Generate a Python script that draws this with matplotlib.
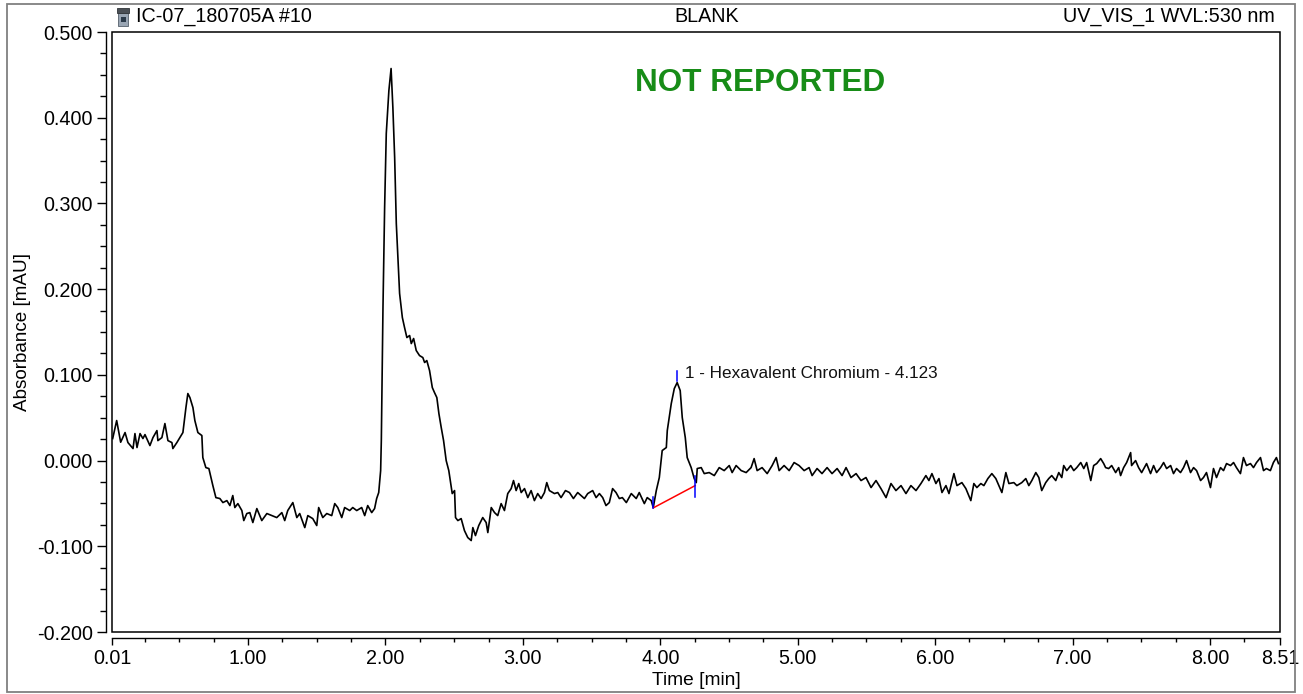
import matplotlib
matplotlib.use("Agg")
import matplotlib.pyplot as plt
from matplotlib.patches import Rectangle
from matplotlib.ticker import FixedLocator, MultipleLocator, FixedFormatter, FormatStrFormatter

plt.rcParams["font.family"] = ["Liberation Sans", "DejaVu Sans"]
plt.rcParams["axes.unicode_minus"] = False

# ---- chromatogram trace: retention time [min] and absorbance [mAU] ----
time_min = [
    0.015, 0.044, 0.073, 0.105, 0.126, 0.163, 0.177, 0.192, 0.214, 0.235,
    0.250, 0.286, 0.308, 0.337, 0.344, 0.373, 0.395, 0.417, 0.446, 0.453,
    0.482, 0.504, 0.526, 0.548, 0.562, 0.577, 0.599, 0.613, 0.635, 0.664,
    0.671, 0.693, 0.715, 0.744, 0.766, 0.795, 0.817, 0.846, 0.868, 0.889,
    0.904, 0.926, 0.955, 0.969, 0.991, 1.013, 1.035, 1.064, 1.100, 1.137,
    1.173, 1.209, 1.246, 1.267, 1.289, 1.326, 1.355, 1.376, 1.413, 1.435,
    1.471, 1.500, 1.514, 1.544, 1.573, 1.609, 1.631, 1.653, 1.682, 1.703,
    1.740, 1.762, 1.791, 1.827, 1.849, 1.871, 1.900, 1.921, 1.936, 1.951,
    1.965, 1.970, 1.982, 1.994, 2.006, 2.025, 2.041, 2.054, 2.067, 2.079,
    2.091, 2.103, 2.123, 2.139, 2.156, 2.176, 2.188, 2.205, 2.224, 2.248,
    2.272, 2.285, 2.301, 2.321, 2.341, 2.357, 2.374, 2.389, 2.406, 2.423,
    2.442, 2.461, 2.486, 2.503, 2.510, 2.527, 2.551, 2.575, 2.599, 2.624,
    2.636, 2.655, 2.679, 2.708, 2.733, 2.745, 2.770, 2.794, 2.817, 2.842,
    2.866, 2.890, 2.915, 2.932, 2.951, 2.970, 2.988, 3.012, 3.036, 3.060,
    3.084, 3.108, 3.133, 3.157, 3.174, 3.193, 3.230, 3.254, 3.278, 3.310,
    3.339, 3.368, 3.399, 3.424, 3.448, 3.472, 3.508, 3.533, 3.557, 3.581,
    3.605, 3.629, 3.653, 3.678, 3.702, 3.724, 3.753, 3.789, 3.825, 3.847,
    3.884, 3.905, 3.934, 3.949, 3.971, 3.993, 4.014, 4.044, 4.051, 4.080,
    4.102, 4.123, 4.145, 4.160, 4.182, 4.196, 4.225, 4.247, 4.262, 4.269,
    4.298, 4.320, 4.356, 4.393, 4.429, 4.465, 4.502, 4.523, 4.552, 4.589,
    4.625, 4.661, 4.683, 4.705, 4.741, 4.778, 4.814, 4.843, 4.865, 4.901,
    4.938, 4.974, 5.010, 5.047, 5.083, 5.105, 5.141, 5.177, 5.214, 5.250,
    5.287, 5.323, 5.352, 5.388, 5.425, 5.461, 5.497, 5.534, 5.570, 5.606,
    5.643, 5.679, 5.715, 5.752, 5.788, 5.824, 5.861, 5.897, 5.933, 5.955,
    5.977, 6.006, 6.028, 6.050, 6.079, 6.101, 6.137, 6.159, 6.195, 6.224,
    6.260, 6.282, 6.304, 6.333, 6.355, 6.384, 6.413, 6.442, 6.464, 6.486,
    6.515, 6.537, 6.573, 6.595, 6.631, 6.660, 6.682, 6.704, 6.733, 6.755,
    6.776, 6.805, 6.827, 6.849, 6.878, 6.900, 6.922, 6.936, 6.958, 6.987,
    7.009, 7.031, 7.060, 7.082, 7.103, 7.133, 7.154, 7.176, 7.205, 7.227,
    7.241, 7.263, 7.285, 7.314, 7.336, 7.350, 7.372, 7.394, 7.423, 7.430,
    7.459, 7.481, 7.503, 7.539, 7.568, 7.590, 7.612, 7.641, 7.663, 7.685,
    7.714, 7.735, 7.757, 7.786, 7.808, 7.830, 7.859, 7.881, 7.903, 7.932,
    7.953, 7.975, 8.004, 8.026, 8.048, 8.077, 8.099, 8.121, 8.150, 8.172,
    8.193, 8.222, 8.244, 8.266, 8.295, 8.317, 8.339, 8.368, 8.390, 8.411,
    8.440, 8.462, 8.484, 8.499,
]
absorbance = [
    0.0257, 0.0467, 0.0214, 0.0327, 0.0210, 0.0140, 0.0315, 0.0152, 0.0315, 0.0257,
    0.0303, 0.0175, 0.0268, 0.0350, 0.0233, 0.0268, 0.0432, 0.0233, 0.0210, 0.0140,
    0.0210, 0.0268, 0.0327, 0.0618, 0.0782, 0.0735, 0.0618, 0.0467, 0.0327, 0.0292,
    0.0035, -0.0082, -0.0093, -0.0292, -0.0432, -0.0443, -0.0490, -0.0467, -0.0525, -0.0408,
    -0.0548, -0.0502, -0.0583, -0.0700, -0.0618, -0.0607, -0.0723, -0.0560, -0.0700, -0.0618,
    -0.0642, -0.0665, -0.0607, -0.0700, -0.0583, -0.0490, -0.0665, -0.0618, -0.0782, -0.0642,
    -0.0677, -0.0758, -0.0548, -0.0665, -0.0618, -0.0642, -0.0502, -0.0548, -0.0665, -0.0548,
    -0.0583, -0.0548, -0.0583, -0.0548, -0.0642, -0.0525, -0.0607, -0.0560, -0.0443, -0.0373,
    -0.0117, 0.0233, 0.1785, 0.2952, 0.3816, 0.4317, 0.4574, 0.4119, 0.3536, 0.2765,
    0.2369, 0.1949, 0.1669, 0.1552, 0.1435, 0.1459, 0.1365, 0.1424, 0.1284, 0.1225,
    0.1202, 0.1144, 0.1167, 0.1050, 0.0852, 0.0793, 0.0735, 0.0548, 0.0385, 0.0233,
    0.0000, -0.0117, -0.0385, -0.0350, -0.0665, -0.0700, -0.0677, -0.0817, -0.0898, -0.0933,
    -0.0782, -0.0875, -0.0758, -0.0665, -0.0723, -0.0840, -0.0548, -0.0607, -0.0642, -0.0502,
    -0.0583, -0.0385, -0.0327, -0.0233, -0.0350, -0.0268, -0.0373, -0.0327, -0.0432, -0.0350,
    -0.0467, -0.0385, -0.0443, -0.0373, -0.0257, -0.0350, -0.0385, -0.0373, -0.0432, -0.0350,
    -0.0373, -0.0443, -0.0373, -0.0408, -0.0443, -0.0385, -0.0350, -0.0432, -0.0385, -0.0432,
    -0.0525, -0.0490, -0.0327, -0.0373, -0.0443, -0.0432, -0.0490, -0.0385, -0.0443, -0.0373,
    -0.0502, -0.0432, -0.0467, -0.0548, -0.0350, -0.0198, 0.0117, 0.0152, 0.0350, 0.0665,
    0.0840, 0.0910, 0.0817, 0.0502, 0.0268, 0.0035, -0.0082, -0.0210, -0.0257, -0.0093,
    -0.0082, -0.0152, -0.0140, -0.0175, -0.0082, -0.0117, -0.0058, -0.0140, -0.0058, -0.0117,
    -0.0140, -0.0082, 0.0023, -0.0117, -0.0082, -0.0152, -0.0058, 0.0035, -0.0117, -0.0058,
    -0.0117, -0.0023, -0.0058, -0.0117, -0.0082, -0.0175, -0.0093, -0.0152, -0.0082, -0.0152,
    -0.0093, -0.0175, -0.0082, -0.0198, -0.0152, -0.0233, -0.0198, -0.0315, -0.0233, -0.0327,
    -0.0432, -0.0268, -0.0350, -0.0292, -0.0385, -0.0292, -0.0350, -0.0268, -0.0175, -0.0233,
    -0.0152, -0.0268, -0.0210, -0.0373, -0.0292, -0.0385, -0.0152, -0.0292, -0.0257, -0.0327,
    -0.0467, -0.0268, -0.0315, -0.0268, -0.0292, -0.0210, -0.0152, -0.0210, -0.0292, -0.0373,
    -0.0140, -0.0268, -0.0257, -0.0292, -0.0257, -0.0210, -0.0292, -0.0233, -0.0140, -0.0198,
    -0.0350, -0.0257, -0.0210, -0.0175, -0.0233, -0.0140, -0.0198, -0.0058, -0.0117, -0.0058,
    -0.0117, -0.0082, -0.0023, -0.0093, -0.0023, -0.0233, -0.0058, -0.0035, 0.0023, -0.0035,
    -0.0082, -0.0093, -0.0058, -0.0140, -0.0082, -0.0175, -0.0082, -0.0023, 0.0093, -0.0058,
    0.0000, -0.0082, -0.0140, -0.0035, -0.0152, -0.0058, -0.0140, -0.0082, -0.0023, -0.0093,
    -0.0058, -0.0152, -0.0093, -0.0140, -0.0082, 0.0000, -0.0140, -0.0082, -0.0117, -0.0233,
    -0.0198, -0.0140, -0.0315, -0.0093, -0.0198, -0.0082, -0.0117, -0.0035, -0.0058, -0.0023,
    -0.0082, -0.0152, 0.0035, -0.0058, -0.0035, -0.0082, -0.0023, 0.0035, -0.0117, -0.0093,
    -0.0117, -0.0023, 0.0035, -0.0035,
]

# ---- integrated peak ----
peak_name = "1 - Hexavalent Chromium - 4.123"
peak_rt = 4.123
peak_start = (3.949, -0.0552)
peak_end = (4.254, -0.0292)
peak_top_mark = (0.0925, 0.1042)
start_mark = (-0.0552, -0.0428)
end_mark = (-0.0428, -0.0175)

# ---- axis ticks ----
x_major = [0.01, 1.0, 2.0, 3.0, 4.0, 5.0, 6.0, 7.0, 8.0, 8.51]
x_labels = ["0.01", "1.00", "2.00", "3.00", "4.00", "5.00", "6.00", "7.00", "8.00", "8.51"]
y_major = [-0.2, -0.1, 0.0, 0.1, 0.2, 0.3, 0.4, 0.5]

header_left = "IC-07_180705A #10"
header_mid = "BLANK"
header_right = "UV_VIS_1 WVL:530 nm"
status_text = "NOT REPORTED"

FS = 14.2

W, H = 1303, 694
fig = plt.figure(figsize=(W / 100, H / 100), dpi=100)
ax = fig.add_axes([112 / W, 62 / H, 1168 / W, 600 / H])

ax.plot(time_min, absorbance, color="black", lw=1.2, zorder=3)

# baseline of the integrated peak and its delimiters
ax.plot([peak_start[0], peak_end[0]], [peak_start[1], peak_end[1]], color="#ff0000", lw=1.1, zorder=4)
ax.plot([peak_start[0]] * 2, start_mark, color="#0000ff", lw=1.1, zorder=5)
ax.plot([peak_end[0]] * 2, end_mark, color="#0000ff", lw=1.1, zorder=5)
ax.plot([peak_rt] * 2, peak_top_mark, color="#0000ff", lw=1.1, zorder=5)
ax.annotate(peak_name, xy=(peak_rt, 0.0965), xytext=(5.8, 0), textcoords="offset points",
            ha="left", va="baseline", fontsize=12.3, color="#111111")

ax.text(0.555, 0.915, status_text, transform=ax.transAxes, ha="center", va="center",
        fontsize=22.7, fontweight="bold", color="#178c17")

ax.set_xlim(0.01, 8.51)
ax.set_ylim(-0.2, 0.5)

# detached axis lines with an inner frame around the plotting area
for side in ("top", "right"):
    ax.spines[side].set_visible(False)
for side in ("left", "bottom"):
    ax.spines[side].set_position(("outward", 4.3))
    ax.spines[side].set_linewidth(1.0)
ax.add_patch(Rectangle((0, 0), 1, 1, transform=ax.transAxes, fill=False,
                       lw=1.1, edgecolor="black", clip_on=False, zorder=6))

ax.xaxis.set_major_locator(FixedLocator(x_major))
ax.xaxis.set_major_formatter(FixedFormatter(x_labels))
ax.xaxis.set_minor_locator(FixedLocator([v * 0.25 for v in range(1, 34) if v % 4 != 0]))
ax.yaxis.set_major_locator(FixedLocator(y_major))
ax.yaxis.set_major_formatter(FormatStrFormatter("%.3f"))
ax.yaxis.set_minor_locator(MultipleLocator(0.025))

ax.tick_params(axis="x", which="major", length=5, width=1.0, labelsize=FS, pad=3)
ax.tick_params(axis="x", which="minor", length=2.9, width=1.0)
ax.tick_params(axis="y", which="major", length=6.5, width=1.0, labelsize=FS, pad=3)
ax.tick_params(axis="y", which="minor", length=4.0, width=1.0)

ax.set_xlabel("Time [min]", fontsize=13.8, labelpad=3)
ax.set_ylabel("Absorbance [mAU]", fontsize=13.6, labelpad=4)

# header line above the plot
fy = 1 - 16 / H
fig.text(136 / W, fy, header_left, ha="left", va="center", fontsize=FS)
fig.text(707 / W, fy, header_mid, ha="center", va="center", fontsize=FS)
fig.text(1275 / W, fy, header_right, ha="right", va="center", fontsize=FS)

# small sample-vial icon
fig.add_artist(Rectangle((118 / W, 1 - 26 / H), 10 / W, 13 / H, transform=fig.transFigure,
                         facecolor="#9aa6b4", edgecolor="#55606c", lw=0.6))
fig.add_artist(Rectangle((117 / W, 1 - 13 / H), 12 / W, 5 / H, transform=fig.transFigure,
                         facecolor="#4a4f55", edgecolor="#303438", lw=0.6))
fig.add_artist(Rectangle((120.5 / W, 1 - 22 / H), 5 / W, 5 / H, transform=fig.transFigure,
                         facecolor="#2c3b4a", edgecolor="none"))

# outer border of the report panel
fig.add_artist(Rectangle((7 / W, 1 - 692 / H), 1288 / W, 688 / H, transform=fig.transFigure,
                         fill=False, edgecolor="#808080", lw=1.3))

fig.savefig("out.png", dpi=100)
